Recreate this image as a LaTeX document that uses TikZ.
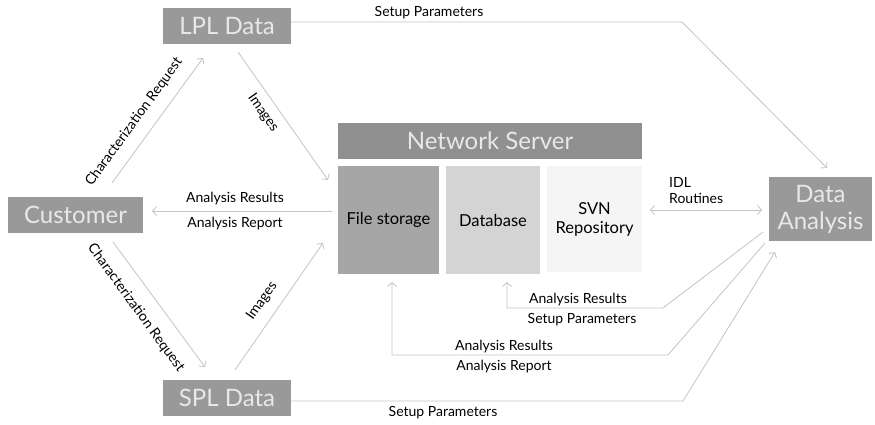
\documentclass[tikz,border=0pt]{standalone}
\usepackage{fontspec}
\setmainfont{Lato}
\usetikzlibrary{arrows.meta,calc}
\definecolor{boxg}{HTML}{999999}
\definecolor{hdrg}{HTML}{909090}
\definecolor{boxtxt}{HTML}{E8E8E8}
\definecolor{fsg}{HTML}{A6A6A6}
\definecolor{dbg}{HTML}{D4D4D4}
\definecolor{svng}{HTML}{F5F5F5}
\definecolor{lineg}{HTML}{C4C4C4}
\begin{document}
\begin{tikzpicture}[x=1pt,y=-1pt,
  bigbox/.style={fill=boxg, text=boxtxt, inner sep=0pt, font=\fontsize{24}{28}\selectfont},
  innerbox/.style={inner sep=0pt, text=black, align=center, font=\fontsize{16.5}{19}\selectfont},
  lbl/.style={inner sep=1pt, text=black, font=\fontsize{14}{16}\selectfont},
  conn/.style={draw=lineg, line width=0.8pt},
  arr/.style={conn, -{Straight Barb[length=4pt,width=9pt]}},
  darr/.style={conn, {Straight Barb[length=4pt,width=9pt]}-{Straight Barb[length=4pt,width=9pt]}}]
\useasboundingbox (0,0) rectangle (875,425);
\fill[white] (0,0) rectangle (875,425);
% nodes
\node[bigbox, minimum width=128pt, minimum height=36pt] (lpl) at (227,26) {LPL Data};
\node[bigbox, minimum width=135pt, minimum height=36pt] (cust) at (75.5,215) {Customer};
\node[bigbox, minimum width=128pt, minimum height=36pt] (spl) at (227,398) {SPL Data};
\node[bigbox, fill=hdrg, minimum width=304pt, minimum height=36pt] (ns) at (490,141) {Network Server};
\node[innerbox, fill=fsg, minimum width=101pt, minimum height=108pt] (fs) at (388.5,220) {File storage};
\node[innerbox, fill=dbg, minimum width=94pt, minimum height=108pt] (db) at (493,220) {Database};
\node[innerbox, fill=svng, minimum width=95pt, minimum height=106pt] (svn) at (594.5,219) {SVN\\Repository};
\node[bigbox, align=center, minimum width=103pt, minimum height=64pt, font=\fontsize{24}{27}\selectfont] (da) at (820.5,209) {Data\\Analysis};
% connector points
\coordinate (c1s) at (112,183); \coordinate (c1e) at (203,58);
\coordinate (c2s) at (238,52);  \coordinate (c2e) at (328,180);
\coordinate (c3s) at (332,211); \coordinate (c3e) at (152,211);
\coordinate (c4s) at (113,242); \coordinate (c4e) at (205,367);
\coordinate (c5s) at (235,370); \coordinate (c5e) at (323,243);
\coordinate (c6s) at (291,22);  \coordinate (c6m) at (682,22);  \coordinate (c6e) at (827,168);
\coordinate (c7s) at (291,401); \coordinate (c7m) at (683,401); \coordinate (c7e) at (775,252);
\coordinate (c8s) at (763,232); \coordinate (c8m) at (663,308); \coordinate (c8n) at (507,308); \coordinate (c8e) at (507,282);
\coordinate (c9s) at (765,243); \coordinate (c9m) at (668,355); \coordinate (c9n) at (392,355); \coordinate (c9e) at (392,282);
\coordinate (c10s) at (650,210); \coordinate (c10e) at (762,210);
% connectors
\draw[arr] (c1s) -- (c1e);
\draw[arr] (c2s) -- (c2e);
\draw[arr] (c3s) -- (c3e);
\draw[arr] (c4s) -- (c4e);
\draw[arr] (c5s) -- (c5e);
\draw[arr] (c6s) -- (c6m) -- (c6e);
\draw[arr] (c7s) -- (c7m) -- (c7e);
\draw[arr] (c8s) -- (c8m) -- (c8n) -- (c8e);
\draw[arr] (c9s) -- (c9m) -- (c9n) -- (c9e);
\draw[darr] (c10s) -- (c10e);
% labels
\node[lbl] (l1) at (429,13) {Setup Parameters};
\node[lbl] (l2) at (443,413) {Setup Parameters};
\node[lbl, rotate=54] (l3) at (134,122) {Characterization Request};
\node[lbl, rotate=-55] (l4) at (263,113) {Images};
\node[lbl] (l5) at (235,199) {Analysis Results};
\node[lbl] (l6) at (235,224) {Analysis Report};
\node[lbl, rotate=-54] (l7) at (136,308) {Characterization Request};
\node[lbl, rotate=55] (l8) at (262,301) {Images};
\node[lbl] (l9) at (578,300) {Analysis Results};
\node[lbl] (l10) at (582,320) {Setup Parameters};
\node[lbl] (l11) at (504,347) {Analysis Results};
\node[lbl] (l12) at (504,367) {Analysis Report};
\node[lbl, align=left, anchor=west] (l13) at (668,191) {IDL\\Routines};
\end{tikzpicture}
\end{document}
